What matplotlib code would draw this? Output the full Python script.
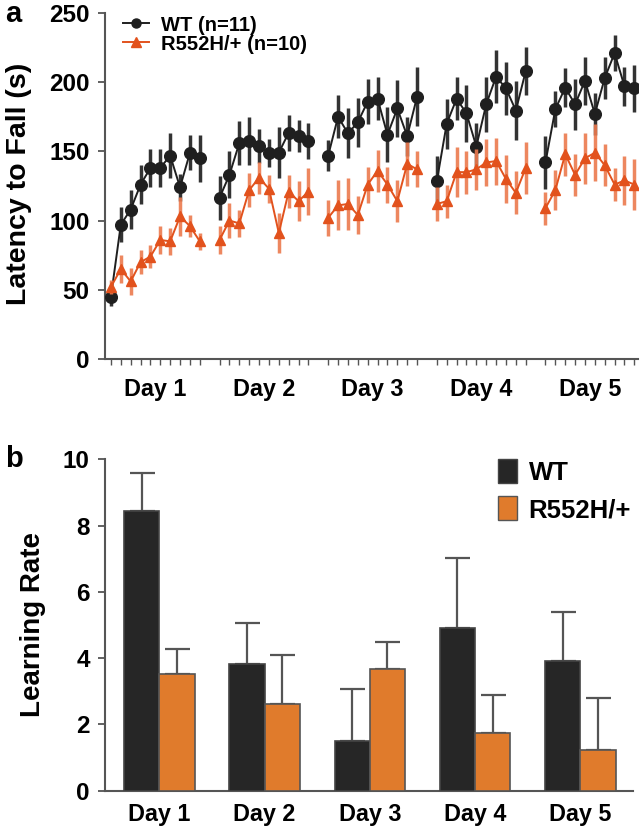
import matplotlib
matplotlib.use("Agg")
import matplotlib.pyplot as plt
import numpy as np
from matplotlib.lines import Line2D
from matplotlib.patches import Patch

plt.rcParams['font.family'] = ['Liberation Sans', 'DejaVu Sans']
plt.rcParams['font.weight'] = 'bold'

days = ["Day 1", "Day 2", "Day 3", "Day 4", "Day 5"]
trials_per_day = 10

wt_mean = [
    [45, 97, 108, 126, 138, 138, 147, 124, 149, 145],
    [116.5, 133, 156, 157.5, 154, 149, 149, 163.5, 161, 157.5],
    [147, 175, 163, 171, 186, 188, 162, 181, 161, 189.5],
    [128.5, 170, 188, 177.5, 153.5, 184, 204, 195.5, 179.5, 208],
    [142, 180.5, 196, 184, 201, 177, 203, 221, 197, 195.5],
]
wt_sem = [
    [7, 12.5, 14, 14, 14, 14, 16, 10, 12.5, 17],
    [16, 17, 16, 17, 12.5, 10, 18.5, 13, 11.5, 13],
    [11.5, 15.5, 18, 17.5, 16, 15.5, 20, 20.5, 14, 21.5],
    [18, 18, 15.5, 20.5, 17, 20, 19, 19, 21, 17.5],
    [19, 13, 14, 18.5, 17.5, 15, 15, 13, 14, 17],
]
mut_mean = [
    [52, 65, 56, 70, 74, 86, 85, 103, 96, 85],
    [86, 100, 98, 122, 131, 123, 91, 121, 114, 121],
    [102, 111, 112, 104, 126, 136, 126, 114, 141, 137],
    [112, 114, 135, 135, 137, 142, 143, 130, 120, 138],
    [109, 122, 148, 133, 145, 149, 140, 126, 129, 126],
]
mut_sem = [
    [5, 10, 10, 8.5, 8.5, 10, 10, 14, 8, 6],
    [10, 12.5, 10, 12.5, 11.5, 10, 14.5, 12, 14.5, 17],
    [13, 18, 19, 14, 13, 15, 13, 15, 16, 13],
    [12, 12, 18, 15.5, 15, 17, 17, 17.5, 15.5, 18.5],
    [12, 14.5, 15.5, 15, 18.5, 20.5, 15, 12, 18, 18.5],
]

wt_lr = [8.45, 3.82, 1.49, 4.9, 3.92]
wt_lr_err = [1.15, 1.23, 1.58, 2.11, 1.48]
mut_lr = [3.52, 2.62, 3.67, 1.73, 1.23]
mut_lr_err = [0.75, 1.48, 0.81, 1.16, 1.56]

wt_label_a = "WT (n=11)"
mut_label_a = "R552H/+ (n=10)"
wt_label_b = "WT"
mut_label_b = "R552H/+"

BLACK = "#1f1f1f"
WT_ERR = "#333333"
ORANGE = "#e2521d"
ORANGE_ERR = "#ec7a4e"
BAR_BLACK = "#262626"
BAR_ORANGE = "#e07b2c"
SPINE = "#555555"

fig = plt.figure(figsize=(6.41, 8.31), dpi=100)

# ---------------- Panel a ----------------
ax = fig.add_axes([0.1638, 0.568, 0.832, 0.4164])
all_x = []
for d in range(len(days)):
    x = np.arange(trials_per_day) + d * (trials_per_day + 1)
    all_x.extend(x)
    ax.errorbar(x, wt_mean[d], yerr=wt_sem[d], fmt='none', ecolor=WT_ERR,
                elinewidth=2.5, capsize=0, zorder=2)
    ax.plot(x, wt_mean[d], '-', color=BLACK, lw=1.4, marker='o', ms=8.4,
            mfc=BLACK, mec=BLACK, zorder=3)
for d in range(len(days)):
    x = np.arange(trials_per_day) + d * (trials_per_day + 1)
    ax.errorbar(x, mut_mean[d], yerr=mut_sem[d], fmt='none', ecolor=ORANGE_ERR,
                elinewidth=2.5, capsize=0, zorder=4, alpha=0.9)
    ax.plot(x, mut_mean[d], '-', color=ORANGE, lw=1.4, marker='^', ms=7.5,
            mfc=ORANGE, mec=ORANGE, zorder=5)

ax.set_ylim(0, 250)
ax.set_xlim(-0.6, 53.4)
ax.set_yticks([0, 50, 100, 150, 200, 250])
ax.set_xticks(all_x, minor=True)
centers = [d * (trials_per_day + 1) + (trials_per_day - 1) / 2 for d in range(len(days))]
ax.set_xticks(centers)
ax.set_xticklabels(days)
ax.tick_params(axis='x', which='major', length=0, pad=14, labelsize=16.8)
ax.tick_params(axis='x', which='minor', length=4, width=1, color=SPINE, direction='out')
ax.tick_params(axis='y', which='major', length=5, width=1.3, color=SPINE, labelsize=17.5, pad=6)
for s in ['top', 'right']:
    ax.spines[s].set_visible(False)
for s in ['left', 'bottom']:
    ax.spines[s].set_color(SPINE)
    ax.spines[s].set_linewidth(1.5)
ax.set_ylabel("Latency to Fall (s)", fontsize=20.5, fontweight='bold')
ax.yaxis.set_label_coords(-0.137, 0.506)

handles_a = [
    Line2D([0], [0], color=BLACK, lw=1.4, marker='o', ms=6.5, mfc=BLACK, mec=BLACK),
    Line2D([0], [0], color=ORANGE, lw=1.4, marker='^', ms=6.5, mfc=ORANGE, mec=ORANGE),
]
ax.legend(handles_a, [wt_label_a, mut_label_a], loc='upper left',
          bbox_to_anchor=(0.0, 1.045), frameon=False,
          handlelength=1.3, handletextpad=0.6, labelspacing=0.0,
          prop={'weight': 'bold', 'size': 14.5})

fig.text(0.008, 1 - 22 / 831, "a", fontsize=21, fontweight='bold', va='baseline', ha='left')

# ---------------- Panel b ----------------
bx = fig.add_axes([0.1638, 0.0485, 0.8237, 0.3988])
xb = np.arange(len(days))
w = 0.335
bx.bar(xb - w / 2, wt_lr, width=w, color=BAR_BLACK, edgecolor="#444444", lw=1.2, zorder=3)
bx.bar(xb + w / 2, mut_lr, width=w, color=BAR_ORANGE, edgecolor="#555555", lw=1.2, zorder=3)
bx.errorbar(xb - w / 2, wt_lr, yerr=[np.zeros(len(wt_lr)), wt_lr_err], fmt='none',
            ecolor=SPINE, elinewidth=1.6, capsize=9, capthick=1.6, zorder=2)
bx.errorbar(xb + w / 2, mut_lr, yerr=[np.zeros(len(mut_lr)), mut_lr_err], fmt='none',
            ecolor=SPINE, elinewidth=1.6, capsize=9, capthick=1.6, zorder=2)
bx.set_ylim(0, 10)
bx.set_xlim(-0.516, 4.5)
bx.set_yticks([0, 2, 4, 6, 8, 10])
bx.set_xticks(xb)
bx.set_xticklabels(days)
bx.tick_params(axis='x', length=0, pad=9, labelsize=16.8)
bx.tick_params(axis='y', length=5, width=1.3, color=SPINE, labelsize=17.5, pad=6)
for s in ['top', 'right']:
    bx.spines[s].set_visible(False)
for s in ['left', 'bottom']:
    bx.spines[s].set_color(SPINE)
    bx.spines[s].set_linewidth(1.5)
bx.set_ylabel("Learning Rate", fontsize=20, fontweight='bold')
bx.yaxis.set_label_coords(-0.112, 0.5)

handles_b = [Patch(facecolor=BAR_BLACK, edgecolor="#444444"),
             Patch(facecolor=BAR_ORANGE, edgecolor="#555555")]
bx.legend(handles_b, [wt_label_b, mut_label_b], loc='upper left',
          bbox_to_anchor=(0.7, 1.07), frameon=False,
          handlelength=0.75, handleheight=1.05, handletextpad=0.45, labelspacing=0.45,
          prop={'weight': 'bold', 'size': 18.5})

fig.text(0.008, 1 - 467 / 831, "b", fontsize=21, fontweight='bold', va='baseline', ha='left')

fig.savefig("out.png", dpi=100)
